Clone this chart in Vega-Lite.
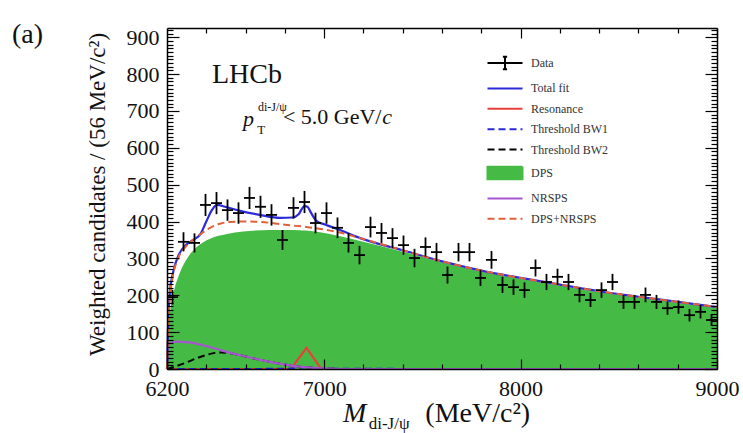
{
  "$schema": "https://vega.github.io/schema/vega-lite/v6.json",
  "width": 550,
  "height": 341,
  "autosize": "none",
  "padding": {"left": 167, "top": 28, "right": 26, "bottom": 64},
  "background": "white",
  "config": {"view": {"stroke": null}, "font": "Liberation Serif", "axis": {"grid": false, "labelOverlap": false}},
  "datasets": {
    "one": [{}],
    "pts": [
      {"m":6228,"n":195,"e":20},{"m":6284,"n":345,"e":26},{"m":6340,"n":342,"e":26},{"m":6396,"n":445,"e":30},{"m":6452,"n":450,"e":30},
      {"m":6508,"n":431,"e":29},{"m":6564,"n":423,"e":29},{"m":6620,"n":464,"e":30},{"m":6676,"n":440,"e":30},{"m":6732,"n":418,"e":29},
      {"m":6788,"n":350,"e":27},{"m":6844,"n":437,"e":29},{"m":6900,"n":453,"e":30},{"m":6956,"n":396,"e":28},{"m":7012,"n":423,"e":29},
      {"m":7068,"n":383,"e":28},{"m":7124,"n":342,"e":26},{"m":7180,"n":309,"e":25},{"m":7236,"n":385,"e":28},{"m":7292,"n":369,"e":27},
      {"m":7348,"n":355,"e":27},{"m":7404,"n":336,"e":26},{"m":7460,"n":301,"e":25},{"m":7516,"n":331,"e":26},{"m":7572,"n":317,"e":25},
      {"m":7628,"n":255,"e":23},{"m":7684,"n":317,"e":25},{"m":7740,"n":317,"e":25},{"m":7796,"n":247,"e":22},{"m":7852,"n":296,"e":24},
      {"m":7908,"n":228,"e":22},{"m":7964,"n":222,"e":21},{"m":8020,"n":214,"e":21},{"m":8076,"n":274,"e":23},{"m":8132,"n":236,"e":22},
      {"m":8188,"n":250,"e":22},{"m":8244,"n":236,"e":22},{"m":8300,"n":201,"e":20},{"m":8356,"n":187,"e":19},{"m":8412,"n":214,"e":21},
      {"m":8468,"n":236,"e":22},{"m":8524,"n":182,"e":19},{"m":8580,"n":182,"e":19},{"m":8636,"n":201,"e":20},{"m":8692,"n":182,"e":19},
      {"m":8748,"n":165,"e":18},{"m":8804,"n":168,"e":18},{"m":8860,"n":146,"e":17},{"m":8916,"n":155,"e":18},{"m":8972,"n":133,"e":16}
    ],
    "total": [
      {"m":6200,"v":0},{"m":6206,"v":130},{"m":6215,"v":210},{"m":6231,"v":262},{"m":6260,"v":310},{"m":6300,"v":338},{"m":6340,"v":352},
      {"m":6370,"v":366},{"m":6400,"v":400},{"m":6430,"v":432},{"m":6455,"v":445},{"m":6495,"v":440},{"m":6572,"v":429},{"m":6673,"v":418},
      {"m":6775,"v":410},{"m":6840,"v":411},{"m":6870,"v":420},{"m":6900,"v":442},{"m":6915,"v":440},{"m":6935,"v":422},{"m":6960,"v":402},
      {"m":7004,"v":392},{"m":7081,"v":377},{"m":7183,"v":355},{"m":7400,"v":322},{"m":7600,"v":292},{"m":7800,"v":267},{"m":8000,"v":247},
      {"m":8200,"v":229},{"m":8400,"v":211},{"m":8600,"v":196},{"m":8800,"v":182},{"m":9000,"v":168}
    ],
    "dpsnr": [
      {"m":6200,"v":0},{"m":6206,"v":120},{"m":6215,"v":200},{"m":6231,"v":255},{"m":6260,"v":305},{"m":6292,"v":330},{"m":6330,"v":350},
      {"m":6368,"v":365},{"m":6419,"v":383},{"m":6470,"v":394},{"m":6521,"v":399},{"m":6600,"v":400},{"m":6673,"v":399},{"m":6750,"v":395},
      {"m":6826,"v":390},{"m":6900,"v":386},{"m":6953,"v":382},{"m":7004,"v":378},{"m":7081,"v":370},{"m":7183,"v":355},{"m":7400,"v":322},
      {"m":7600,"v":292},{"m":7800,"v":267},{"m":8000,"v":247},{"m":8200,"v":229},{"m":8400,"v":211},{"m":8600,"v":196},{"m":8800,"v":182},{"m":9000,"v":168}
    ],
    "dps": [
      {"m":6200,"v":0},{"m":6205,"v":90},{"m":6215,"v":150},{"m":6231,"v":200},{"m":6266,"v":262},{"m":6300,"v":298},{"m":6350,"v":330},
      {"m":6419,"v":353},{"m":6505,"v":366},{"m":6587,"v":373},{"m":6724,"v":377},{"m":6841,"v":377},{"m":6964,"v":372},{"m":7081,"v":360},
      {"m":7183,"v":347},{"m":7400,"v":318},{"m":7600,"v":289},{"m":7800,"v":264},{"m":8000,"v":244},{"m":8200,"v":226},
      {"m":8400,"v":208},{"m":8600,"v":193},{"m":8800,"v":179},{"m":9000,"v":165}
    ],
    "nrsps": [
      {"m":6200,"v":0},{"m":6204,"v":55},{"m":6215,"v":70},{"m":6250,"v":74},{"m":6300,"v":73},{"m":6350,"v":69},{"m":6400,"v":62},
      {"m":6450,"v":55},{"m":6500,"v":47},{"m":6600,"v":34},{"m":6700,"v":22},{"m":6800,"v":12},{"m":6900,"v":5},{"m":7000,"v":1.5},
      {"m":7100,"v":0},{"m":9000,"v":0}
    ],
    "bw2": [
      {"m":6200,"v":0},{"m":6250,"v":8},{"m":6300,"v":18},{"m":6350,"v":29},{"m":6400,"v":38},{"m":6450,"v":44},{"m":6480,"v":45},
      {"m":6520,"v":43},{"m":6560,"v":39},{"m":6600,"v":34},{"m":6700,"v":22},{"m":6800,"v":12},{"m":6900,"v":5},{"m":7000,"v":1.5},
      {"m":7100,"v":0},{"m":9000,"v":0}
    ],
    "bw1": [
      {"m":6200,"v":0},{"m":6800,"v":0.5},{"m":6850,"v":2},{"m":6900,"v":5},{"m":6950,"v":2},{"m":7000,"v":0.5},{"m":9000,"v":0}
    ],
    "res": [
      {"m":6200,"v":0},{"m":6830,"v":0},{"m":6910,"v":57},{"m":6985,"v":0},{"m":9000,"v":0}
    ]
  },
  "resolve": {"axis": {"x": "independent", "y": "independent"}},
  "layer": [
    {
      "layer": [
        {
          "data": {"name": "one"},
          "mark": {"type": "line", "strokeWidth": 2.2},
          "encoding": {
            "x": {"datum": 6200, "type": "quantitative", "scale": {"domain": [6200, 9000], "nice": false, "zero": false},
              "axis": {"orient": "bottom", "title": null, "values": [6200, 7000, 8000, 9000],
                "format": "d", "labelFlush": false, "labelOverlap": false, "labelBound": false, "labelFont": "Liberation Serif", "labelFontSize": 22,
                "labelColor": "#111", "labelPadding": 19, "tickSize": -10,
                "tickColor": "black", "tickWidth": 1.2, "domainColor": "black", "domainWidth": 1.5, "zindex": 1, "grid": false}},
            "y": {"datum": 0, "type": "quantitative", "scale": {"domain": [0, 925], "nice": false, "zero": false},
              "axis": {"orient": "left", "title": "Weighted candidates / (56 MeV/c²)",
                "values": [0,200,400,600,800],
                "format": "d", "labelOverlap": false, "labelBound": false,
                "labelFont": "Liberation Serif", "labelFontSize": 22, "labelColor": "#111", "labelPadding": 20, "labelBaseline": "middle",
                "tickSize": -12,
                "tickColor": "black", "tickWidth": 1.2, "domainColor": "black", "domainWidth": 1.5, "zindex": 1, "grid": false,
                "titleFont": "Liberation Serif", "titleFontSize": 23, "titleFontWeight": "normal", "titleColor": "#111",
                "titleX": -63, "titleY": 166, "titleAngle": -90, "titleBaseline": "alphabetic", "titleAlign": "center"}},
            "color": {"datum": "Total fit", "type": "nominal",
              "scale": {"domain": ["Data","Total fit","Resonance","Threshold BW1","Threshold BW2","DPS","NRSPS","DPS+NRSPS"],
                "range": ["#000000","#2a2ad8","#e8413a","#2a2ad8","#000000","#45bb45","#a855d0","#e0603a"]},
              "legend": {"orient": "none", "legendX": 330, "legendY": 27, "title": null, "padding": 0, "rowPadding": 6.4,
                "symbolSize": 196, "labelOffset": 18, "labelFont": "Liberation Serif", "labelFontSize": 12, "labelColor": "#333",
                "symbolStrokeWidth": 2, "symbolOpacity": 1,
                "symbolType": {"expr": "datum.value === 'Data' ? 'M-2.5,0H2.5M0,-0.9V0.9M-0.3,-0.9H0.3M-0.3,0.9H0.3' : datum.value === 'DPS' ? 'M-2.5,-0.9H2.5V0.9H-2.5Z' : 'M-2.5,0H2.5'"},
                "symbolDash": {"expr": "(datum.value === 'Threshold BW1' || datum.value === 'Threshold BW2' || datum.value === 'DPS+NRSPS') ? [7,4] : [1,0]"},
                "symbolFillColor": {"expr": "datum.value === 'DPS' ? '#45bb45' : 'transparent'"}}}
          }
        },
        {
          "data": {"name": "dps"},
          "mark": {"type": "area", "interpolate": "monotone", "opacity": 1},
          "encoding": {
            "x": {"field": "m", "type": "quantitative", "scale": {"domain": [6200, 9000], "nice": false, "zero": false}},
            "y": {"field": "v", "type": "quantitative", "scale": {"domain": [0, 925], "nice": false, "zero": false}},
            "color": {"datum": "DPS", "type": "nominal", "legend": null, "scale": {"domain": ["Data","Total fit","Resonance","Threshold BW1","Threshold BW2","DPS","NRSPS","DPS+NRSPS"], "range": ["#000000","#2a2ad8","#e8413a","#2a2ad8","#000000","#45bb45","#a855d0","#e0603a"]}}
          }
        },
        {
          "data": {"name": "total"},
          "mark": {"type": "line", "interpolate": "monotone", "strokeWidth": 2.2},
          "encoding": {
            "x": {"field": "m", "type": "quantitative", "scale": {"domain": [6200, 9000], "nice": false, "zero": false}},
            "y": {"field": "v", "type": "quantitative", "scale": {"domain": [0, 925], "nice": false, "zero": false}},
            "color": {"datum": "Total fit", "type": "nominal", "legend": null, "scale": {"domain": ["Data","Total fit","Resonance","Threshold BW1","Threshold BW2","DPS","NRSPS","DPS+NRSPS"], "range": ["#000000","#2a2ad8","#e8413a","#2a2ad8","#000000","#45bb45","#a855d0","#e0603a"]}}
          }
        },
        {
          "data": {"name": "res"},
          "mark": {"type": "line", "interpolate": "linear", "strokeWidth": 2.2},
          "encoding": {
            "x": {"field": "m", "type": "quantitative", "scale": {"domain": [6200, 9000], "nice": false, "zero": false}},
            "y": {"field": "v", "type": "quantitative", "scale": {"domain": [0, 925], "nice": false, "zero": false}},
            "color": {"datum": "Resonance", "type": "nominal", "legend": null, "scale": {"domain": ["Data","Total fit","Resonance","Threshold BW1","Threshold BW2","DPS","NRSPS","DPS+NRSPS"], "range": ["#000000","#2a2ad8","#e8413a","#2a2ad8","#000000","#45bb45","#a855d0","#e0603a"]}}
          }
        },
        {
          "data": {"name": "bw1"},
          "mark": {"type": "line", "interpolate": "monotone", "strokeWidth": 2, "strokeDash": [7, 4]},
          "encoding": {
            "x": {"field": "m", "type": "quantitative", "scale": {"domain": [6200, 9000], "nice": false, "zero": false}},
            "y": {"field": "v", "type": "quantitative", "scale": {"domain": [0, 925], "nice": false, "zero": false}},
            "color": {"datum": "Threshold BW1", "type": "nominal", "legend": null, "scale": {"domain": ["Data","Total fit","Resonance","Threshold BW1","Threshold BW2","DPS","NRSPS","DPS+NRSPS"], "range": ["#000000","#2a2ad8","#e8413a","#2a2ad8","#000000","#45bb45","#a855d0","#e0603a"]}}
          }
        },
        {
          "data": {"name": "bw2"},
          "mark": {"type": "line", "interpolate": "monotone", "strokeWidth": 2, "strokeDash": [7, 4]},
          "encoding": {
            "x": {"field": "m", "type": "quantitative", "scale": {"domain": [6200, 9000], "nice": false, "zero": false}},
            "y": {"field": "v", "type": "quantitative", "scale": {"domain": [0, 925], "nice": false, "zero": false}},
            "color": {"datum": "Threshold BW2", "type": "nominal", "legend": null, "scale": {"domain": ["Data","Total fit","Resonance","Threshold BW1","Threshold BW2","DPS","NRSPS","DPS+NRSPS"], "range": ["#000000","#2a2ad8","#e8413a","#2a2ad8","#000000","#45bb45","#a855d0","#e0603a"]}}
          }
        },
        {
          "data": {"name": "nrsps"},
          "mark": {"type": "line", "interpolate": "monotone", "strokeWidth": 2.2},
          "encoding": {
            "x": {"field": "m", "type": "quantitative", "scale": {"domain": [6200, 9000], "nice": false, "zero": false}},
            "y": {"field": "v", "type": "quantitative", "scale": {"domain": [0, 925], "nice": false, "zero": false}},
            "color": {"datum": "NRSPS", "type": "nominal", "legend": null, "scale": {"domain": ["Data","Total fit","Resonance","Threshold BW1","Threshold BW2","DPS","NRSPS","DPS+NRSPS"], "range": ["#000000","#2a2ad8","#e8413a","#2a2ad8","#000000","#45bb45","#a855d0","#e0603a"]}}
          }
        },
        {
          "data": {"name": "dpsnr"},
          "mark": {"type": "line", "interpolate": "monotone", "strokeWidth": 2, "strokeDash": [7, 4]},
          "encoding": {
            "x": {"field": "m", "type": "quantitative", "scale": {"domain": [6200, 9000], "nice": false, "zero": false}},
            "y": {"field": "v", "type": "quantitative", "scale": {"domain": [0, 925], "nice": false, "zero": false}},
            "color": {"datum": "DPS+NRSPS", "type": "nominal", "legend": null, "scale": {"domain": ["Data","Total fit","Resonance","Threshold BW1","Threshold BW2","DPS","NRSPS","DPS+NRSPS"], "range": ["#000000","#2a2ad8","#e8413a","#2a2ad8","#000000","#45bb45","#a855d0","#e0603a"]}}
          }
        },
        {
          "data": {"name": "pts"},
          "mark": {"type": "errorbar", "color": "black", "thickness": 1.8},
          "encoding": {
            "x": {"field": "m", "type": "quantitative", "title": null, "scale": {"domain": [6200, 9000], "nice": false, "zero": false}},
            "y": {"field": "n", "type": "quantitative", "title": "Weighted candidates / (56 MeV/c²)", "scale": {"domain": [0, 925], "nice": false, "zero": false}},
            "yError": {"field": "e"}
          }
        },
        {
          "data": {"name": "pts"},
          "mark": {"type": "tick", "orient": "horizontal", "size": 11, "thickness": 1.8, "color": "black", "opacity": 1},
          "encoding": {
            "x": {"field": "m", "type": "quantitative", "title": null, "scale": {"domain": [6200, 9000], "nice": false, "zero": false}},
            "y": {"field": "n", "type": "quantitative", "title": "Weighted candidates / (56 MeV/c²)", "scale": {"domain": [0, 925], "nice": false, "zero": false}}
          }
        },
        {
          "data": {"name": "one"},
          "mark": {"type": "text", "text": "LHCb", "font": "Liberation Serif", "fontSize": 28, "align": "left", "baseline": "alphabetic", "color": "#111"},
          "encoding": {
            "x": {"datum": 6429, "type": "quantitative", "scale": {"domain": [6200, 9000], "nice": false, "zero": false}},
            "y": {"datum": 776, "type": "quantitative", "scale": {"domain": [0, 925], "nice": false, "zero": false}}
          }
        },
        {
          "data": {"name": "one"},
          "mark": {"type": "text", "text": "p", "font": "Liberation Serif", "fontStyle": "italic", "fontSize": 22, "align": "left", "baseline": "alphabetic", "color": "#111"},
          "encoding": {
            "x": {"datum": 6587, "type": "quantitative", "scale": {"domain": [6200, 9000], "nice": false, "zero": false}},
            "y": {"datum": 659, "type": "quantitative", "scale": {"domain": [0, 925], "nice": false, "zero": false}}
          }
        },
        {
          "data": {"name": "one"},
          "mark": {"type": "text", "text": "T", "font": "Liberation Serif", "fontSize": 13, "align": "left", "baseline": "alphabetic", "color": "#111"},
          "encoding": {
            "x": {"datum": 6660, "type": "quantitative", "scale": {"domain": [6200, 9000], "nice": false, "zero": false}},
            "y": {"datum": 637, "type": "quantitative", "scale": {"domain": [0, 925], "nice": false, "zero": false}}
          }
        },
        {
          "data": {"name": "one"},
          "mark": {"type": "text", "text": "di-J/ψ", "font": "Liberation Serif", "fontSize": 12, "align": "left", "baseline": "alphabetic", "color": "#111"},
          "encoding": {
            "x": {"datum": 6663, "type": "quantitative", "scale": {"domain": [6200, 9000], "nice": false, "zero": false}},
            "y": {"datum": 700, "type": "quantitative", "scale": {"domain": [0, 925], "nice": false, "zero": false}}
          }
        },
        {
          "data": {"name": "one"},
          "mark": {"type": "text", "text": "< 5.0 GeV/", "font": "Liberation Serif", "fontSize": 22, "align": "left", "baseline": "alphabetic", "color": "#111"},
          "encoding": {
            "x": {"datum": 6790, "type": "quantitative", "scale": {"domain": [6200, 9000], "nice": false, "zero": false}},
            "y": {"datum": 665, "type": "quantitative", "scale": {"domain": [0, 925], "nice": false, "zero": false}}
          }
        },
        {
          "data": {"name": "one"},
          "mark": {"type": "text", "text": "c", "font": "Liberation Serif", "fontStyle": "italic", "fontSize": 22, "align": "left", "baseline": "alphabetic", "color": "#111"},
          "encoding": {
            "x": {"datum": 7296, "type": "quantitative", "scale": {"domain": [6200, 9000], "nice": false, "zero": false}},
            "y": {"datum": 665, "type": "quantitative", "scale": {"domain": [0, 925], "nice": false, "zero": false}}
          }
        },
        {
          "data": {"name": "one"},
          "mark": {"type": "text", "text": "M", "font": "Liberation Serif", "fontStyle": "italic", "fontSize": 28, "align": "left", "baseline": "alphabetic", "color": "#111"},
          "encoding": {
            "x": {"datum": 7096, "type": "quantitative", "scale": {"domain": [6200, 9000], "nice": false, "zero": false}},
            "y": {"datum": -144, "type": "quantitative", "scale": {"domain": [0, 925], "nice": false, "zero": false}}
          }
        },
        {
          "data": {"name": "one"},
          "mark": {"type": "text", "text": "di-J/ψ", "font": "Liberation Serif", "fontSize": 17, "align": "left", "baseline": "alphabetic", "color": "#111"},
          "encoding": {
            "x": {"datum": 7227, "type": "quantitative", "scale": {"domain": [6200, 9000], "nice": false, "zero": false}},
            "y": {"datum": -162, "type": "quantitative", "scale": {"domain": [0, 925], "nice": false, "zero": false}}
          }
        },
        {
          "data": {"name": "one"},
          "mark": {"type": "text", "text": "(MeV/c²)", "font": "Liberation Serif", "fontSize": 28, "align": "left", "baseline": "alphabetic", "color": "#111"},
          "encoding": {
            "x": {"datum": 7515, "type": "quantitative", "scale": {"domain": [6200, 9000], "nice": false, "zero": false}},
            "y": {"datum": -144, "type": "quantitative", "scale": {"domain": [0, 925], "nice": false, "zero": false}}
          }
        },
        {
          "data": {"name": "one"},
          "mark": {"type": "text", "text": "(a)", "font": "Liberation Serif", "fontSize": 28, "align": "left", "baseline": "alphabetic", "color": "#111"},
          "encoding": {
            "x": {"datum": 5411, "type": "quantitative", "scale": {"domain": [6200, 9000], "nice": false, "zero": false}},
            "y": {"datum": 884, "type": "quantitative", "scale": {"domain": [0, 925], "nice": false, "zero": false}}
          }
        }
      ]
    },
    {
      "data": {"name": "one"},
      "mark": {"type": "point", "opacity": 0},
      "encoding": {
        "x": {"datum": 6200, "type": "quantitative", "scale": {"domain": [6200, 9000], "nice": false, "zero": false},
          "axis": {"orient": "bottom", "title": null, "labels": false, "domain": false,
            "values": [6400,6600,6800,7200,7400,7600,7800,8200,8400,8600,8800],
            "tickSize": -5, "tickColor": "black", "tickWidth": 1.2, "zindex": 1, "grid": false}},
        "y": {"datum": 0, "type": "quantitative", "scale": {"domain": [0, 925], "nice": false, "zero": false},
          "axis": {"orient": "left", "title": null, "labels": false, "domain": false,
            "values": [10,20,30,40,50,60,70,80,90,110,120,130,140,150,160,170,180,190,210,220,230,240,250,260,270,280,290,310,320,330,340,350,360,370,380,390,410,420,430,440,450,460,470,480,490,510,520,530,540,550,560,570,580,590,610,620,630,640,650,660,670,680,690,710,720,730,740,750,760,770,780,790,810,820,830,840,850,860,870,880,890,910,920],
            "tickSize": -6, "tickColor": "black", "tickWidth": 1.2, "zindex": 1, "grid": false}}
      }
    },
    {
      "data": {"name": "one"},
      "mark": {"type": "point", "opacity": 0},
      "encoding": {
        "x": {"datum": 6200, "type": "quantitative", "scale": {"domain": [6200, 9000], "nice": false, "zero": false},
          "axis": {"orient": "top", "title": null, "labels": false,
            "values": [7000, 8000, 9000],
            "tickSize": -10, "tickColor": "black", "tickWidth": 1.2, "domainColor": "black", "domainWidth": 1.5, "zindex": 1, "grid": false}},
        "y": {"datum": 0, "type": "quantitative", "scale": {"domain": [0, 925], "nice": false, "zero": false},
          "axis": {"orient": "right", "title": null, "labels": false,
            "values": [0,100,200,300,400,500,600,700,800,900],
            "tickSize": -12, "tickColor": "black", "tickWidth": 1.2, "domainColor": "black", "domainWidth": 1.5, "zindex": 1, "grid": false}}
      }
    },
    {
      "data": {"name": "one"},
      "mark": {"type": "point", "opacity": 0},
      "encoding": {
        "x": {"datum": 6200, "type": "quantitative", "scale": {"domain": [6200, 9000], "nice": false, "zero": false},
          "axis": {"orient": "top", "title": null, "labels": false, "domain": false,
            "values": [6400,6600,6800,7200,7400,7600,7800,8200,8400,8600,8800],
            "tickSize": -5, "tickColor": "black", "tickWidth": 1.2, "zindex": 1, "grid": false}},
        "y": {"datum": 0, "type": "quantitative", "scale": {"domain": [0, 925], "nice": false, "zero": false},
          "axis": {"orient": "right", "title": null, "labels": false, "domain": false,
            "values": [10,20,30,40,50,60,70,80,90,110,120,130,140,150,160,170,180,190,210,220,230,240,250,260,270,280,290,310,320,330,340,350,360,370,380,390,410,420,430,440,450,460,470,480,490,510,520,530,540,550,560,570,580,590,610,620,630,640,650,660,670,680,690,710,720,730,740,750,760,770,780,790,810,820,830,840,850,860,870,880,890,910,920],
            "tickSize": -6, "tickColor": "black", "tickWidth": 1.2, "zindex": 1, "grid": false}}
      }
    },
    {
      "data": {"name": "one"},
      "mark": {"type": "point", "opacity": 0},
      "encoding": {
        "x": {"datum": 6200, "type": "quantitative", "scale": {"domain": [6200, 9000], "nice": false, "zero": false}, "axis": null},
        "y": {"datum": 0, "type": "quantitative", "scale": {"domain": [0, 925], "nice": false, "zero": false},
          "axis": {"orient": "left", "title": null, "domain": false,
            "values": [100,300,500,700,900],
            "format": "d", "labelOverlap": false, "labelBound": false,
            "labelFont": "Liberation Serif", "labelFontSize": 22, "labelColor": "#111", "labelPadding": 20, "labelBaseline": "middle",
            "tickSize": -12, "tickColor": "black", "tickWidth": 1.2, "zindex": 1, "grid": false}}
      }
    }
  ]
}
